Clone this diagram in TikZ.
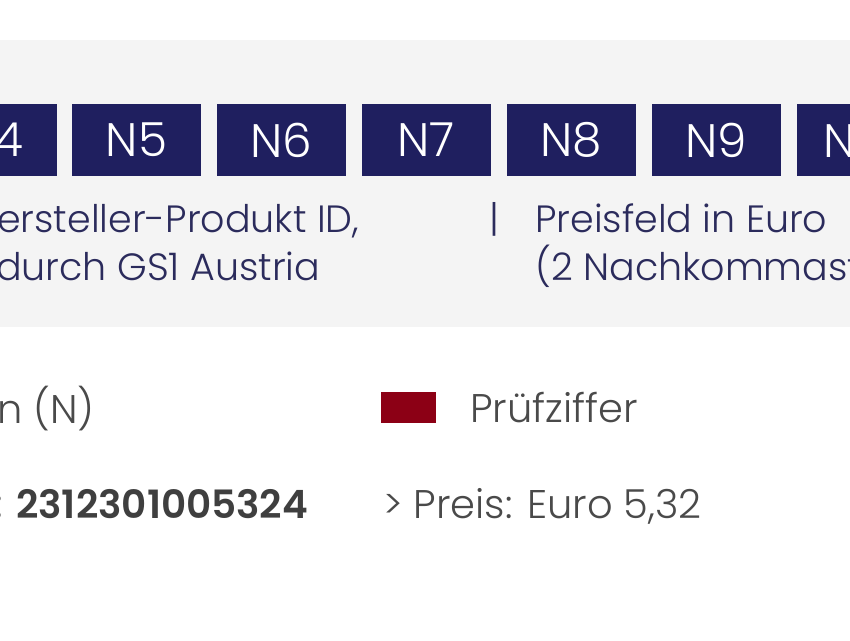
\documentclass[tikz,border=0pt]{standalone}
\usepackage{fontspec}
\setmainfont{Poppins}[UprightFont=* Light, BoldFont=* SemiBold]
\definecolor{navy}{HTML}{1F1F5F}
\definecolor{panelgray}{HTML}{F4F4F4}
\definecolor{paneltxt}{HTML}{2B2B5C}
\definecolor{lowtxt}{HTML}{4A4A4A}
\definecolor{checkred}{HTML}{8C0015}
\tikzset{
  digitbox/.style={fill=navy, draw=none, minimum width=129pt, minimum height=72pt, inner sep=0pt,
    text=white, font=\fontsize{47}{47}\selectfont},
  paneltext/.style={inner sep=0pt, anchor=base west, text=paneltxt, font=\fontsize{38}{38}\selectfont},
  lowtext/.style={inner sep=0pt, anchor=base west, text=lowtxt, font=\fontsize{40}{40}\selectfont},
}
\begin{document}
\begin{tikzpicture}[x=1pt, y=-1pt]
\useasboundingbox (0,0) rectangle (850,640);
\clip (0,0) rectangle (850,640);
\fill[white] (0,0) rectangle (850,640);
\fill[panelgray] (0,40) rectangle (850,327);
% digit boxes
\node[digitbox] (n4) at (-7.5,140) {N4};
\node[digitbox] (n5) at (136.5,140) {N5};
\node[digitbox] (n6) at (281.5,140) {N6};
\node[digitbox] (n7) at (426,140) {N7};
\node[digitbox] (n8) at (571.5,140) {N8};
\node[digitbox] (n9) at (716.5,140) {N9};
\node[digitbox] (n10) at (861,140) {N10};
% panel texts
\node[paneltext] (t1) at (-3,232) {ersteller-Produkt ID,};
\node[paneltext] (t2) at (-4,280) {durch GS1 Austria};
\node[paneltext] (sep) at (489,232) {|};
\node[paneltext] (t3) at (535,232) {Preisfeld in Euro};
\node[paneltext] (t4) at (535,280) {(2 Nachkommast};
% legend
\node[lowtext] (legn) at (-3,423) {n (N)};
\fill[checkred] (381,392) rectangle (436,423);
\node[inner sep=0pt] (redsq) at (408.5,407.5) {};
\node[lowtext] (legp) at (470,422) {Prüfziffer};
% example
\node[lowtext, font=\fontsize{40}{40}\selectfont\bfseries] (colon) at (-8,518) {:};
\node[lowtext, font=\fontsize{39}{39}\selectfont\bfseries, text=lowtxt!85!black] (num) at (16,518) {2312301005324};
\node[lowtext] (price) at (383,518) {> Preis: Euro 5,32};
\end{tikzpicture}
\end{document}
